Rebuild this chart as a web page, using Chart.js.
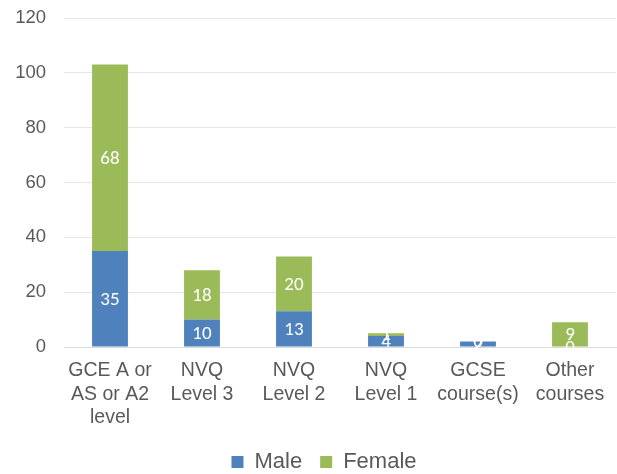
<!DOCTYPE html>
<html>
<head>
<meta charset="utf-8">
<script src="https://cdn.jsdelivr.net/npm/chart.js@4"></script>
<style>
  html, body { margin: 0; padding: 0; background: #fff; }
  #wrap { width: 617px; height: 474px; }
</style>
</head>
<body>
<div id="wrap"><canvas id="coursesChart" width="617" height="474"></canvas></div>
<script>
const categories = [
  ['GCE A or', 'AS or A2', 'level'],
  ['NVQ', 'Level 3'],
  ['NVQ', 'Level 2'],
  ['NVQ', 'Level 1'],
  ['GCSE', 'course(s)'],
  ['Other', 'courses']
];
const male = [35, 10, 13, 4, 2, 0];
const female = [68, 18, 20, 1, 0, 9];
const yTicks = [0, 20, 40, 60, 80, 100, 120];

// draws the white value labels in the middle of each bar segment
const barLabels = {
  id: 'barLabels',
  afterDatasetsDraw(chart) {
    const ctx = chart.ctx;
    ctx.save();
    ctx.fillStyle = '#ffffff';
    ctx.font = 'normal 19px Carlito, Calibri, Lato, sans-serif';
    ctx.textAlign = 'center';
    ctx.textBaseline = 'middle';
    chart.data.datasets.forEach((ds, i) => {
      const meta = chart.getDatasetMeta(i);
      meta.data.forEach((bar, j) => {
        const y = (bar.y + bar.base) / 2;
        ctx.fillText(String(ds.data[j]), bar.x, y + 1);
      });
    });
    ctx.restore();
  }
};

// nudge the legend a bit to the right, like the original
const legendShift = {
  id: 'legendShift',
  afterLayout(chart) {
    chart.legend.left += 16;
    chart.legend.right += 16;
  }
};

const chartCtx = document.getElementById('coursesChart').getContext('2d');
new Chart(chartCtx, {
  type: 'bar',
  data: {
    labels: categories,
    datasets: [
      { label: 'Male', data: male, backgroundColor: '#4F81BD', barPercentage: 0.39, categoryPercentage: 1 },
      { label: 'Female', data: female, backgroundColor: '#9BBB59', barPercentage: 0.39, categoryPercentage: 1 }
    ]
  },
  options: {
    responsive: false,
    animation: false,
    layout: { padding: { top: 18, right: 1, left: 0, bottom: -9 } },
    scales: {
      x: {
        stacked: true,
        grid: { display: false, drawTicks: false },
        border: { color: '#d9d9d9', width: 1 },
        ticks: {
          color: '#595959',
          font: { family: 'Arial, "Liberation Sans", sans-serif', size: 19.5, lineHeight: '23.5px' },
          padding: 12,
          maxRotation: 0,
          autoSkip: false
        },
        afterFit: (axis) => { axis.height = 86; }
      },
      y: {
        stacked: true,
        min: 0,
        max: 120,
        afterBuildTicks: (axis) => { axis.ticks = yTicks.map(v => ({ value: v })); },
        grid: { color: '#e6e6e6', drawTicks: false },
        border: { display: false },
        ticks: {
          color: '#595959',
          font: { family: 'Arial, "Liberation Sans", sans-serif', size: 18.5 },
          padding: 18
        },
        afterFit: (axis) => {
          axis.width = 64;
          axis.paddingTop = 0;
          axis.paddingBottom = 0;
        }
      }
    },
    plugins: {
      legend: {
        position: 'bottom',
        labels: {
          color: '#595959',
          font: { family: 'Arial, "Liberation Sans", sans-serif', size: 22 },
          boxWidth: 12,
          boxHeight: 12,
          padding: 18
        }
      },
      tooltip: { enabled: false }
    }
  },
  plugins: [barLabels, legendShift]
});
</script>
</body>
</html>
